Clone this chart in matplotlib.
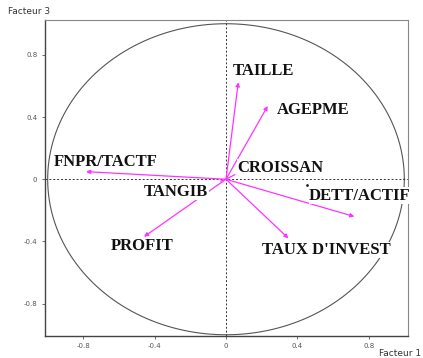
import numpy as np
import matplotlib
matplotlib.use("Agg")
from matplotlib import pyplot as plt

# variable names and coordinates on factors 1 and 3
names = ["TAILLE", "AGEPME", "FNPR/TACTF", "CROISSAN", "TANGIB",
         "DETT/ACTIF", "TAUX D'INVEST", "PROFIT"]
f1 = [0.069, 0.234, -0.785, 0.05, -0.03, 0.72, 0.35, -0.46]
f3 = [0.624, 0.471, 0.049, 0.03, -0.012, -0.24, -0.38, -0.37]
# label anchors (left, centre)
lab_x = [0.039, 0.284, -0.965, 0.062, -0.46, 0.466, 0.20, -0.645]
lab_y = [0.698, 0.446, 0.113, 0.075, -0.08, -0.105, -0.455, -0.429]

ticks = [-0.8, -0.4, 0, 0.4, 0.8]
tick_labels = ["-0.8", "-0.4", "0", "0.4", "0.8"]

fig = plt.figure(figsize=(4.23, 3.58), dpi=100)
ax = fig.add_axes([45 / 423, 1 - 335.7 / 358, (407.7 - 45) / 423, (335.7 - 20) / 358])
ax.set_xlim(-1.015, 1.019)
ax.set_ylim(-1.006, 1.024)

# correlation circle
t = np.linspace(0, 2 * np.pi, 400)
ax.plot(np.cos(t), np.sin(t), color="#555555", lw=0.8)
ax.axhline(0, color="#333333", lw=0.7, ls=(0, (2, 2)))
ax.axvline(0, color="#333333", lw=0.7, ls=(0, (2, 2)))

for i in range(len(names)):
    style = "-|>" if np.hypot(f1[i], f3[i]) > 0.1 else "-"
    ax.annotate("", xy=(f1[i], f3[i]), xytext=(0, 0),
                arrowprops=dict(arrowstyle=style, color="#ff33ff", lw=0.9,
                                mutation_scale=6, shrinkA=0, shrinkB=0))
for i in range(len(names)):
    ax.text(lab_x[i], lab_y[i], names[i], family="Liberation Serif",
            fontweight="bold", fontsize=12, color="#111111",
            ha="left", va="center", zorder=5,
            bbox=dict(facecolor="white", edgecolor="none", pad=0.3))

ax.plot([0.456], [-0.037], ".", color="#222222", ms=2)

ax.set_xticks(ticks)
ax.set_xticklabels(tick_labels)
ax.set_yticks(ticks)
ax.set_yticklabels(tick_labels)
ax.tick_params(labelsize=5, colors="#555555", length=2, width=0.6)
for s in ["top", "right"]:
    ax.spines[s].set_color("#888888")
    ax.spines[s].set_linewidth(0.8)
for s in ["left", "bottom"]:
    ax.spines[s].set_color("#444444")
    ax.spines[s].set_linewidth(1.0)

fig.text(8 / 423, 1 - 12 / 358, "Facteur 3", fontsize=6.5, color="#333333",
         ha="left", va="center")
fig.text(421 / 423, 1 - 353 / 358, "Facteur 1", fontsize=6.5, color="#333333",
         ha="right", va="center")

fig.savefig("out.png", dpi=100)
